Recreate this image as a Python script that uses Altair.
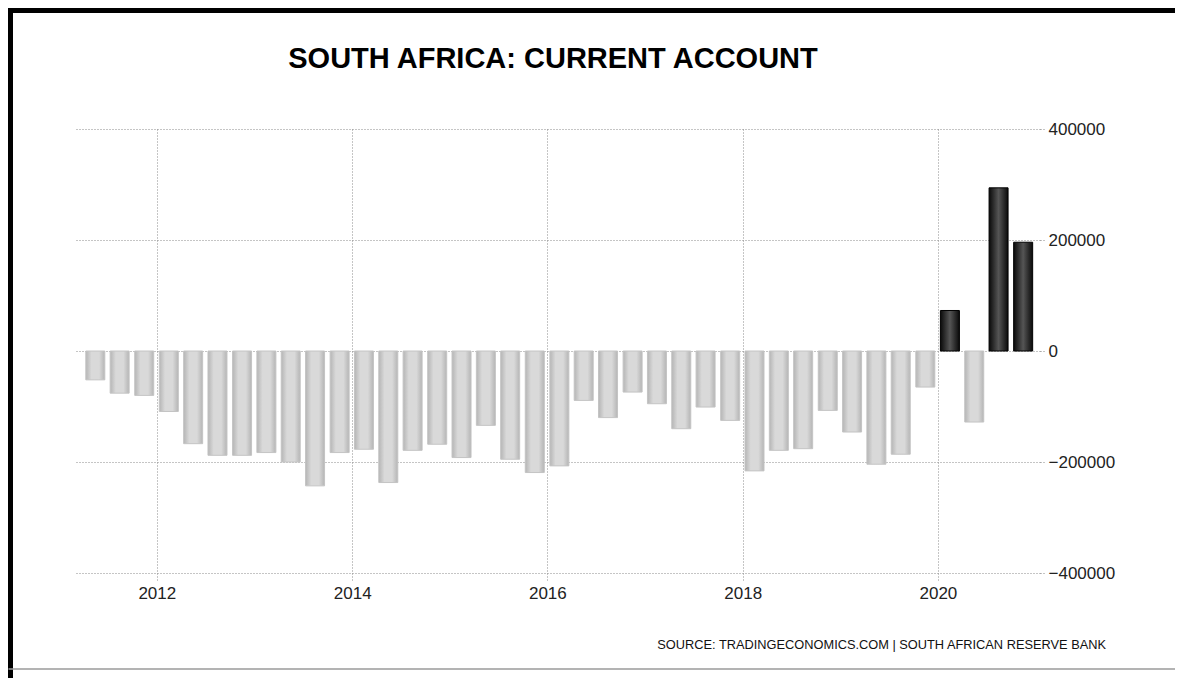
import altair as alt
import pandas as pd

# ---- data ----
quarters = [
    "2011Q2", "2011Q3", "2011Q4",
    "2012Q1", "2012Q2", "2012Q3", "2012Q4",
    "2013Q1", "2013Q2", "2013Q3", "2013Q4",
    "2014Q1", "2014Q2", "2014Q3", "2014Q4",
    "2015Q1", "2015Q2", "2015Q3", "2015Q4",
    "2016Q1", "2016Q2", "2016Q3", "2016Q4",
    "2017Q1", "2017Q2", "2017Q3", "2017Q4",
    "2018Q1", "2018Q2", "2018Q3", "2018Q4",
    "2019Q1", "2019Q2", "2019Q3", "2019Q4",
    "2020Q1", "2020Q2", "2020Q3", "2020Q4",
]
values = [
    -52000, -76000, -80000,
    -109000, -167000, -188000, -188000,
    -183000, -200000, -243000, -183000,
    -177000, -237000, -179000, -168000,
    -192000, -134000, -195000, -219000,
    -207000, -89000, -120000, -74000,
    -95000, -140000, -101000, -125000,
    -216000, -179000, -176000, -107000,
    -146000, -204000, -186000, -65000,
    73000, -128000, 294000, 196000,
]
y_ticks = [-400000, -200000, 0, 200000, 400000]
x_tick_years = [2012, 2014, 2016, 2018, 2020]
title_text = "SOUTH AFRICA: CURRENT ACCOUNT"
source_text = "SOURCE: TRADINGECONOMICS.COM  |  SOUTH AFRICAN RESERVE BANK"

# mid-quarter dates
dates = []
for q in quarters:
    p = pd.Period(q, freq="Q")
    mid = p.start_time + (p.end_time - p.start_time) / 2
    dates.append(mid.strftime("%Y-%m-%d"))

df = pd.DataFrame({"date": dates, "value": values})

FONT = "Liberation Sans"

x_enc = alt.X(
    "date:T",
    scale=alt.Scale(domain=[alt.DateTime(year=2011, month=3, date=1),
                            alt.DateTime(year=2021, month=1, date=17)],
                    padding=0, nice=False),
    axis=alt.Axis(
        values=[alt.DateTime(year=y, month=1, date=1) for y in x_tick_years],
        format="%Y", title=None, grid=True, gridDash=[1, 2], gridColor="#8a8a8a",
        gridOpacity=1, domain=False, ticks=True, tickSize=7, tickDash=[1, 2],
        tickColor="#8a8a8a", labelPadding=5, labelFont=FONT, labelFontSize=17,
        labelColor="#222222", labelBaseline="top",
    ),
)
y_enc = alt.Y(
    "value:Q",
    scale=alt.Scale(domain=[-400000, 400000], nice=False),
    axis=alt.Axis(
        values=y_ticks, format="d", orient="right", title=None, grid=True,
        gridDash=[1, 2], gridColor="#8a8a8a", gridOpacity=1, domain=False,
        ticks=True, tickSize=4, tickDash=[1, 2], tickColor="#8a8a8a",
        labelPadding=4, labelFont=FONT, labelFontSize=17, labelColor="#222222",
        labelAlign="left", labelBaseline="middle",
    ),
)

neg_grad = alt.LinearGradient(
    gradient="linear", x1=0, x2=1, y1=0, y2=0,
    stops=[alt.GradientStop(offset=0, color="#b5b5b5"),
           alt.GradientStop(offset=0.3, color="#d9d9d9"),
           alt.GradientStop(offset=0.7, color="#d9d9d9"),
           alt.GradientStop(offset=1, color="#b5b5b5")],
)
pos_grad = alt.LinearGradient(
    gradient="linear", x1=0, x2=1, y1=0, y2=0,
    stops=[alt.GradientStop(offset=0, color="#0a0a0a"),
           alt.GradientStop(offset=0.5, color="#555555"),
           alt.GradientStop(offset=1, color="#0a0a0a")],
)

base = alt.Chart(df)
neg_bars = base.transform_filter("datum.value < 0").mark_bar(
    width=19, color=neg_grad, stroke="#c4c4c4", strokeWidth=1
).encode(x=x_enc, y=y_enc, y2=alt.datum(0))
pos_bars = base.transform_filter("datum.value >= 0").mark_bar(
    width=19, color=pos_grad, stroke="#000000", strokeWidth=1
).encode(x=x_enc, y=y_enc, y2=alt.datum(0))

one = pd.DataFrame({"t": [title_text]})
title = alt.Chart(one).mark_text(
    font=FONT, fontSize=29, fontWeight="bold", color="#000000", align="center",
    baseline="alphabetic",
).encode(text="t:N", x=alt.value(478), y=alt.value(-61))

src = alt.Chart(pd.DataFrame({"t": [source_text]})).mark_text(
    font=FONT, fontSize=12.8, color="#111111", align="right",
    baseline="alphabetic",
).encode(text="t:N", x=alt.value(1031), y=alt.value(520))

frame_df = pd.DataFrame({"k": [1]})
left_border = alt.Chart(frame_df).mark_rule(color="#000000", strokeWidth=5, strokeCap="butt").encode(
    x=alt.value(-64.5), y=alt.value(-121), y2=alt.value(549)
)
top_border = alt.Chart(frame_df).mark_rule(color="#000000", strokeWidth=5, strokeCap="butt").encode(
    x=alt.value(-67), x2=alt.value(1100), y=alt.value(-118.5)
)
bottom_border = alt.Chart(frame_df).mark_rule(color="#9a9a9a", strokeWidth=1.5).encode(
    x=alt.value(-66.5), x2=alt.value(1100), y=alt.value(540)
)

chart = alt.layer(
    neg_bars, pos_bars, title, src, left_border, top_border, bottom_border
).properties(
    width=965, height=444,
    autosize=alt.AutoSizeParams(type="none"),
    padding={"left": 67, "top": 121, "right": 135, "bottom": 105},
    background="#ffffff",
).configure_view(stroke=None)

chart.save("out.html", embed_options={"renderer": "svg", "actions": False})
